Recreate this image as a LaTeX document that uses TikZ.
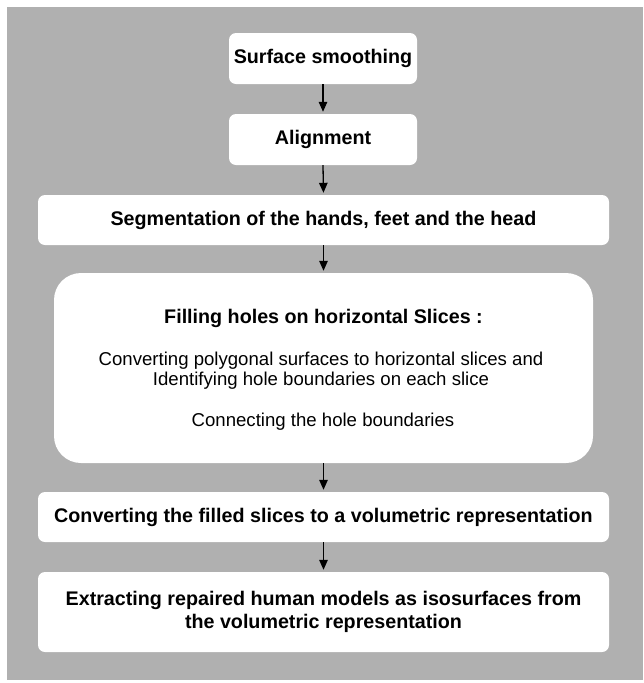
\documentclass[tikz,border=0pt]{standalone}
\usepackage{fontspec}
\setmainfont{Liberation Sans}
\usetikzlibrary{arrows.meta}
\definecolor{bggray}{RGB}{176,176,176}
\tikzset{
  stepbox/.style={fill=white, draw=none, rounded corners=7pt, inner sep=0pt,
    align=center, font=\fontsize{19.7}{23}\selectfont\bfseries},
  bigbox/.style={fill=white, draw=none, rounded corners=27pt, inner sep=0pt},
  boldline/.style={inner sep=0pt, font=\fontsize{19.7}{23}\selectfont\bfseries},
  plainline/.style={inner sep=0pt, align=center, font=\fontsize{18.6}{20}\selectfont},
  arr/.style={line width=1.3pt, -{Triangle[width=8.5pt,length=10pt]}, shorten >=2pt}
}
\begin{document}
\begin{tikzpicture}[x=1pt,y=-1pt]
\useasboundingbox (0,0) rectangle (643,683);
\fill[white] (0,0) rectangle (643,683);
\fill[bggray] (7,7) rectangle (643,680);

\node[stepbox, minimum width=188pt, minimum height=51pt] (surf) at (323,58.5) {Surface smoothing};
\node[stepbox, minimum width=188pt, minimum height=51pt] (align) at (323,139.5) {Alignment};
\node[stepbox, minimum width=571pt, minimum height=50pt] (seg) at (323.5,220) {Segmentation of the hands, feet and the head};
\node[bigbox, minimum width=539pt, minimum height=190pt] (fillb) at (323.5,368) {};
\node[boldline] (ftitle) at (323.5,318) {Filling holes on horizontal Slices :};
\node[plainline] (fconv) at (321,371) {Converting polygonal surfaces to horizontal slices and\\Identifying hole boundaries on each slice};
\node[plainline] (fconn) at (323,422) {Connecting the hole boundaries};
\node[stepbox, minimum width=571pt, minimum height=50pt] (conv) at (323.5,517) {Converting the filled slices to a volumetric representation};
\node[stepbox, minimum width=571pt, minimum height=80pt] (extr) at (323.5,612) {Extracting repaired human models as isosurfaces from\\the volumetric representation};

\draw[arr] (surf.south) -- (align.north);
\draw[arr] (align.south) -- (seg.north);
\draw[arr] (seg.south) -- (fillb.north);
\draw[arr] (fillb.south) -- (conv.north);
\draw[arr] (conv.south) -- (extr.north);
\end{tikzpicture}
\end{document}
